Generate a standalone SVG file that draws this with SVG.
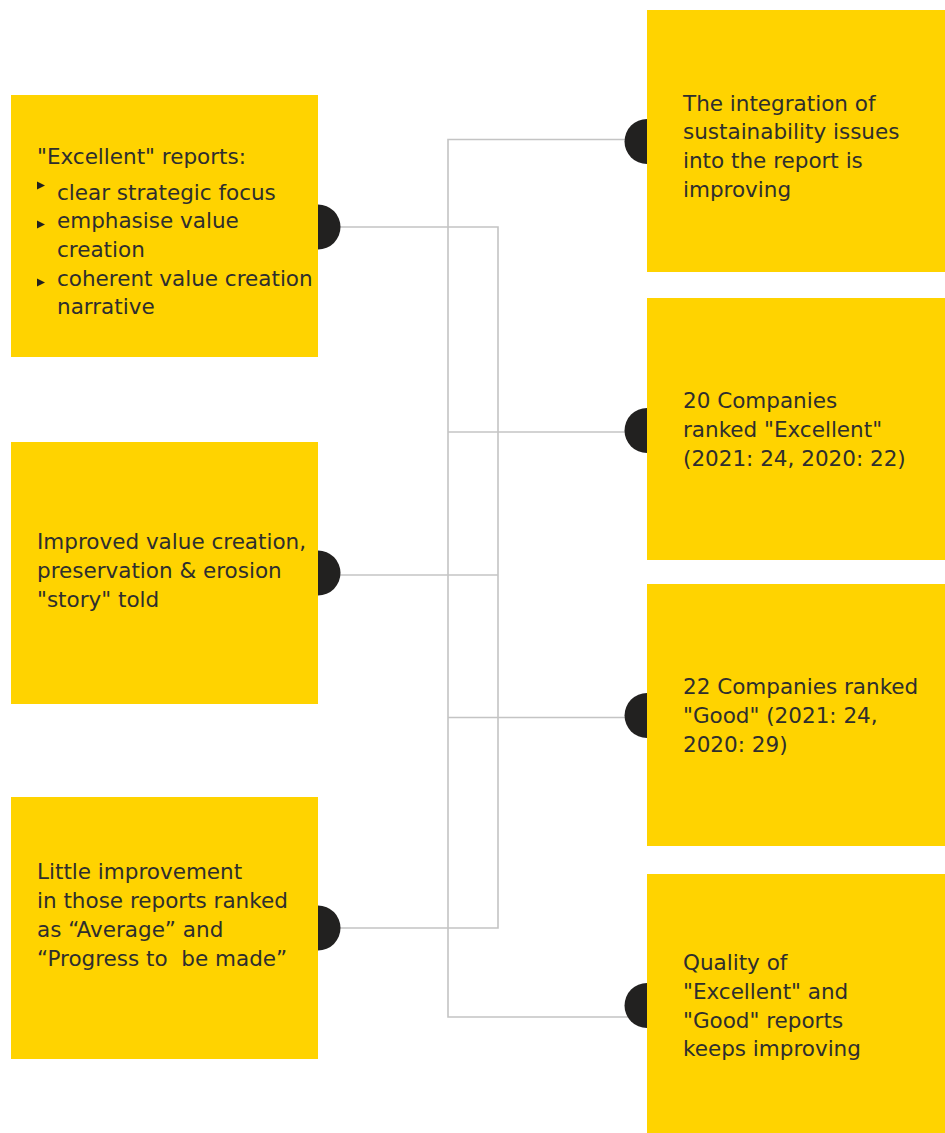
<svg xmlns="http://www.w3.org/2000/svg" width="945" height="1133" viewBox="0 0 945 1133">
<style>
.box{fill:#FFD300}
.dot{fill:#222120}
.t{font-family:"DejaVu Sans","Liberation Sans",sans-serif;font-size:21.5px;fill:#2e2e2e}
.ln{stroke:#c4c4c4;stroke-width:1.6;fill:none}
.bul{fill:#222120}
</style>
<rect width="945" height="1133" fill="#ffffff"/>
<g id="connectors">
<polyline class="ln" points="340,227 498,227 498,928 340,928"/>
<line class="ln" x1="340" y1="575" x2="498" y2="575"/>
<polyline class="ln" points="647,139.5 448,139.5 448,1017 647,1017"/>
<line class="ln" x1="448" y1="432" x2="647" y2="432"/>
<line class="ln" x1="448" y1="717.5" x2="647" y2="717.5"/>
</g>
<g id="left1">
<rect class="box" x="11" y="95" width="307" height="262"/>
<path class="dot" d="M318,204.5 A22.5,22.5 0 0 1 318,249.5 Z"/>
<text class="t" x="37" y="164">"Excellent" reports:</text>
<polygon class="bul" points="37,181.5 45,185.5 37,189.5"/>
<polygon class="bul" points="37,220.5 45,224.5 37,228.5"/>
<polygon class="bul" points="37,278.5 45,282.5 37,286.5"/>
<text class="t" x="57" y="200">clear strategic focus</text>
<text class="t" x="57" y="228">emphasise value</text>
<text class="t" x="57" y="257">creation</text>
<text class="t" x="57" y="286">coherent value creation</text>
<text class="t" x="57" y="314">narrative</text>
</g>
<g id="left2">
<rect class="box" x="11" y="442" width="307" height="262"/>
<path class="dot" d="M318,550.5 A22.5,22.5 0 0 1 318,595.5 Z"/>
<text class="t" x="37" y="549">Improved value creation,</text>
<text class="t" x="37" y="578">preservation &amp; erosion</text>
<text class="t" x="37" y="607">"story" told</text>
</g>
<g id="left3">
<rect class="box" x="11" y="797" width="307" height="262"/>
<path class="dot" d="M318,905.5 A22.5,22.5 0 0 1 318,950.5 Z"/>
<text class="t" x="37" y="879">Little improvement</text>
<text class="t" x="37" y="908">in those reports ranked</text>
<text class="t" x="37" y="937">as “Average” and</text>
<text class="t" x="37" y="966" xml:space="preserve">“Progress to  be made”</text>
</g>
<g id="right1">
<rect class="box" x="647" y="10" width="298" height="262"/>
<path class="dot" d="M647,119 A22.5,22.5 0 0 0 647,164 Z"/>
<text class="t" x="683" y="111">The integration of</text>
<text class="t" x="683" y="139">sustainability issues</text>
<text class="t" x="683" y="168">into the report is</text>
<text class="t" x="683" y="197">improving</text>
</g>
<g id="right2">
<rect class="box" x="647" y="298" width="298" height="262"/>
<path class="dot" d="M647,408 A22.5,22.5 0 0 0 647,453 Z"/>
<text class="t" x="683" y="408">20 Companies</text>
<text class="t" x="683" y="437">ranked "Excellent"</text>
<text class="t" x="683" y="466">(2021: 24, 2020: 22)</text>
</g>
<g id="right3">
<rect class="box" x="647" y="584" width="298" height="262"/>
<path class="dot" d="M647,693 A22.5,22.5 0 0 0 647,738 Z"/>
<text class="t" x="683" y="694">22 Companies ranked</text>
<text class="t" x="683" y="723">"Good" (2021: 24,</text>
<text class="t" x="683" y="752">2020: 29)</text>
</g>
<g id="right4">
<rect class="box" x="647" y="874" width="298" height="259"/>
<path class="dot" d="M647,983 A22.5,22.5 0 0 0 647,1028 Z"/>
<text class="t" x="683" y="970">Quality of</text>
<text class="t" x="683" y="999">"Excellent" and</text>
<text class="t" x="683" y="1028">"Good" reports</text>
<text class="t" x="683" y="1056">keeps improving</text>
</g>
</svg>
